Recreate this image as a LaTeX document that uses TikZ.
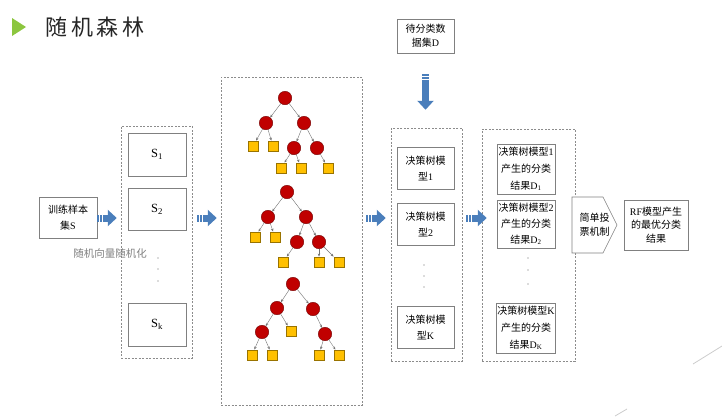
\documentclass[tikz,border=0pt]{standalone}
\usepackage{fontspec}
\setmainfont{Liberation Serif}
\newfontfamily\cjk{Noto Sans CJK SC}
\newfontfamily\cjktitle[LetterSpace=16]{Noto Sans CJK SC}
\usetikzlibrary{arrows.meta,positioning}

\definecolor{flowblue}{HTML}{4A7EBB}
\definecolor{splitred}{HTML}{C00000}
\definecolor{leafgold}{HTML}{FFC000}
\definecolor{titlegreen}{HTML}{8CC63F}

\newcommand\la[1]{{\rmfamily #1}}

\tikzset{
  box/.style={draw=black!50, fill=white, line width=0.6pt, align=center, inner sep=1pt,
    font=\cjk\fontsize{10}{16}\selectfont},
  sbox/.style={box, minimum width=58pt, font=\rmfamily\fontsize{12.5}{14}\selectfont},
  group/.style={draw=black!45, dash pattern=on 2pt off 1.5pt, line width=0.5pt},
  flow/.style={draw=flowblue, line width=7pt, dash pattern=on 2pt off 1pt on 2pt off 1pt on 60pt,
    -{Triangle[width=16pt,length=9pt]}},
  split/.style={circle, fill=splitred, draw=splitred!60!black, line width=0.4pt, minimum size=13.5pt, inner sep=0pt},
  leaf/.style={rectangle, fill=leafgold, draw=leafgold!60!black, line width=0.4pt, minimum size=10.5pt, inner sep=0pt},
  branch/.style={draw=black!55, line width=0.4pt, -{Stealth[length=3pt,width=2.5pt]}},
}

\begin{document}
\begin{tikzpicture}[x=1pt, y=-1pt]
  \useasboundingbox (0,0) rectangle (722,416);

  % Title
  \fill[titlegreen] (12,18) -- (26,27) -- (12,36) -- cycle;
  \node[font=\cjktitle\fontsize{22}{22}\selectfont, text=black!85] (title) at (95,27) {随机森林};

  % Dashed groups
  \node[group, minimum width=71pt, minimum height=232pt] (sgroup) at (156.5,242) {};
  \node[group, minimum width=141pt, minimum height=328pt] (tgroup) at (291.5,241) {};
  \node[group, minimum width=71pt, minimum height=233pt] (mgroup) at (426.5,244.5) {};
  \node[group, minimum width=93pt, minimum height=232pt] (rgroup) at (528.5,245) {};

  % Training set and samples
  \node[box, minimum width=58pt, minimum height=41pt] (train) at (68,217.5) {训练样本\\集\la{S}};
  \node[sbox, minimum height=43pt] (s1) at (157,154.5) {S\textsubscript{1}};
  \node[sbox, minimum height=42pt] (s2) at (157,209) {S\textsubscript{2}};
  \node[sbox, minimum height=43pt] (sk) at (157,324.5) {S\textsubscript{k}};
  \foreach \y in {258,269,281} \fill[black!60] (158,\y) circle (0.7pt);
  \node[font=\cjk\fontsize{10.5}{12}\selectfont, text=black!50] (randlabel) at (110,253) {随机向量随机化};

  % Trees
  \node[split] (t1) at (285,98) {};
  \node[split] (t1a) at (266,123) {};
  \node[split] (t1b) at (304,123) {};
  \node[leaf] (t1aa) at (253,146) {};
  \node[leaf] (t1ab) at (273,146) {};
  \node[split] (t1ba) at (294,148) {};
  \node[split] (t1bb) at (317,148) {};
  \node[leaf] (t1baa) at (281,168) {};
  \node[leaf] (t1bab) at (301,168) {};
  \node[leaf] (t1bbb) at (328,168) {};

  \node[split] (t2) at (287,192) {};
  \node[split] (t2a) at (268,217) {};
  \node[split] (t2b) at (306,217) {};
  \node[leaf] (t2aa) at (255,237) {};
  \node[leaf] (t2ab) at (275,237) {};
  \node[split] (t2ba) at (297,242) {};
  \node[split] (t2bb) at (319,242) {};
  \node[leaf] (t2baa) at (283,262) {};
  \node[leaf] (t2bba) at (319,262) {};
  \node[leaf] (t2bbb) at (339,262) {};

  \node[split] (t3) at (293,284) {};
  \node[split] (t3a) at (277,308) {};
  \node[split] (t3b) at (313,309) {};
  \node[split] (t3aa) at (262,332) {};
  \node[leaf] (t3ab) at (291,331) {};
  \node[split] (t3bb) at (325,334) {};
  \node[leaf] (t3aaa) at (252,355) {};
  \node[leaf] (t3aab) at (272,355) {};
  \node[leaf] (t3bba) at (319,355) {};
  \node[leaf] (t3bbb) at (339,355) {};

  \foreach \p/\c in {t1/t1a, t1/t1b, t1a/t1aa, t1a/t1ab, t1b/t1ba, t1b/t1bb, t1ba/t1baa, t1ba/t1bab, t1bb/t1bbb,
      t2/t2a, t2/t2b, t2a/t2aa, t2a/t2ab, t2b/t2ba, t2b/t2bb, t2ba/t2baa, t2bb/t2bba, t2bb/t2bbb,
      t3/t3a, t3/t3b, t3a/t3aa, t3a/t3ab, t3b/t3bb, t3aa/t3aaa, t3aa/t3aab, t3bb/t3bba, t3bb/t3bbb}
    \draw[branch] (\p) -- (\c);

  % Data set and tree models
  \node[box, minimum width=57pt, minimum height=34pt, font=\cjk\fontsize{10}{14}\selectfont] (data) at (425.5,36) {待分类数\\据集\la{D}};
  \node[box, minimum width=57pt, minimum height=42pt] (m1) at (425.5,168) {决策树模\\型\la{1}};
  \node[box, minimum width=57pt, minimum height=42pt] (m2) at (425.5,224) {决策树模\\型\la{2}};
  \node[box, minimum width=57pt, minimum height=42pt] (mk) at (425.5,327) {决策树模\\型\la{K}};
  \foreach \y in {265,276,287} \fill[black!60] (424,\y) circle (0.7pt);

  % Results
  \node[box, minimum width=58pt, minimum height=50pt, font=\cjk\fontsize{10}{17}\selectfont] (r1) at (526,169) {决策树模型\la{1}\\产生的分类\\结果\la{D\textsubscript{1}}};
  \node[box, minimum width=58pt, minimum height=48pt, font=\cjk\fontsize{10}{16}\selectfont] (r2) at (526,224) {决策树模型\la{2}\\产生的分类\\结果\la{D\textsubscript{2}}};
  \node[box, minimum width=58pt, minimum height=50pt, font=\cjk\fontsize{10}{17}\selectfont] (rk) at (526,328) {决策树模型\la{K}\\产生的分类\\结果\la{D\textsubscript{K}}};
  \foreach \y in {258,270,284} \fill[black!60] (528,\y) circle (0.7pt);

  % Voting and final result
  \filldraw[draw=black!50, fill=white, line width=0.6pt] (572,197) -- (603,197) -- (617,225) -- (603,253) -- (572,253) -- cycle;
  \node[align=center, font=\cjk\fontsize{10}{14}\selectfont, minimum width=45pt, minimum height=56pt] (vote) at (594.5,225) {简单投\\票机制};
  \node[box, minimum width=64pt, minimum height=50pt, font=\cjk\fontsize{10}{13.5}\selectfont] (final) at (656,225) {\la{RF}模型产生\\的最优分类\\结果};

  % Block arrows
  \coordinate (lane) at (0,218);
  \draw[flow, shorten >=4pt] (train.east |- lane) -- (sgroup.west |- lane);
  \draw[flow, shorten <=5pt, shorten >=4pt] (sgroup.east |- lane) -- (tgroup.west |- lane);
  \draw[flow, shorten <=4pt, shorten >=5pt] (tgroup.east |- lane) -- (mgroup.west |- lane);
  \draw[flow, shorten <=4pt, shorten >=-5pt] (mgroup.east |- lane) -- (rgroup.west |- lane);
  \draw[flow, shorten <=21pt, shorten >=18pt] (data.south) -- (data.south |- mgroup.north);

  % Slide decoration
  \draw[black!20, line width=0.8pt] (693,364) -- (722,346);
  \draw[black!20, line width=0.8pt] (615,416) -- (627,409);
\end{tikzpicture}
\end{document}
